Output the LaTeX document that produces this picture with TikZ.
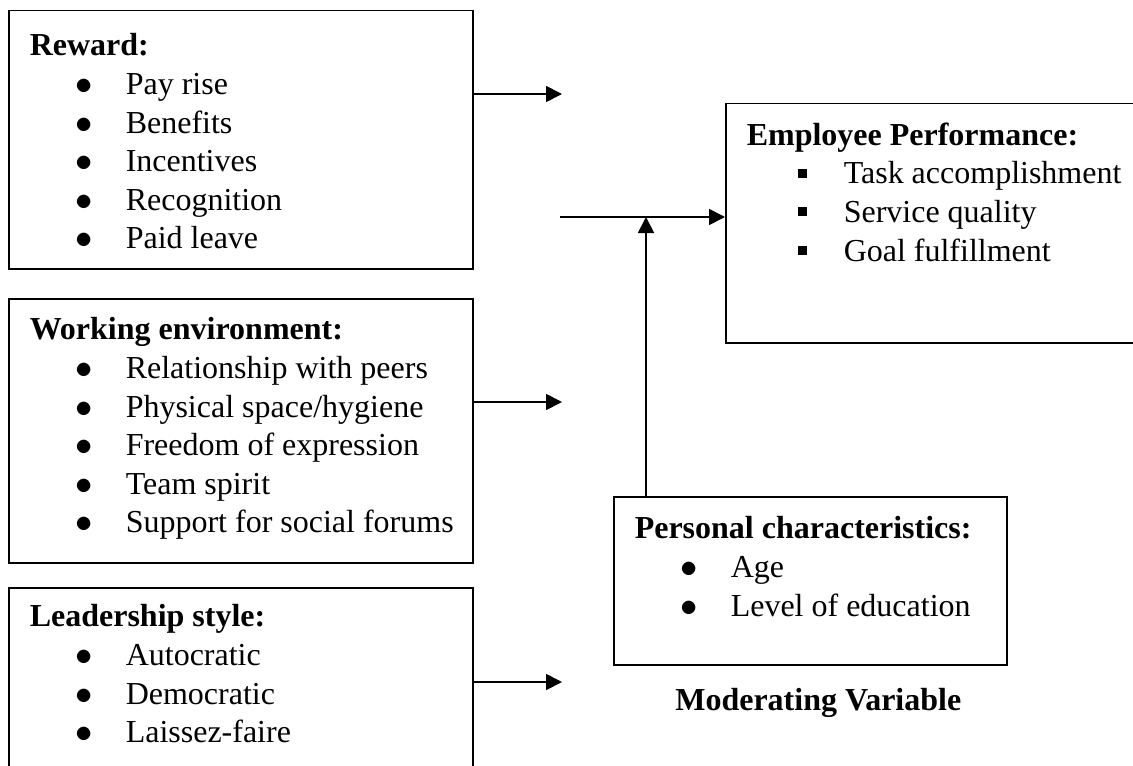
\documentclass[tikz,border=0pt]{standalone}
\usepackage{fontspec}
\setmainfont{Liberation Serif}
\usetikzlibrary{positioning, arrows.meta}

% box contents: top padding, width, height, lines
\newcommand{\panel}[4][10pt]{\parbox[c][#3][t]{#2}{\leftskip=10.5pt\vspace*{#1}#4}}
\newcommand{\dotitem}[1]{\par\hspace*{23pt}\makebox[25pt][l]{$\bullet$}#1}
\newcommand{\sqitem}[1]{\par\hspace*{25.4pt}\makebox[23.1pt][l]{\raisebox{3pt}{\rule{4.6pt}{4.6pt}}}#1}

\begin{document}
\begin{tikzpicture}[x=0.5pt, y=-0.5pt, font=\fontsize{16pt}{19.3pt}\selectfont]
    \tikzstyle{block} = [rectangle, draw, line width=0.75pt, inner sep=0pt, anchor=north west]
    \tikzstyle{arrow} = [line width=0.9pt, -{Triangle[length=8pt, width=8pt]}]

    \useasboundingbox (0,0) rectangle (1133,765);
    \clip (0,0) rectangle (1133,765);

    \node [block] (reward) at (8,10) {\panel[11.5pt]{232pt}{129pt}{\textbf{Reward:}
        \dotitem{Pay rise}\dotitem{Benefits}\dotitem{Incentives}\dotitem{Recognition}\dotitem{Paid leave}}};
    \node [block] (environ) at (8,298) {\panel[9.5pt]{232pt}{132pt}{\textbf{Working environment:}
        \dotitem{Relationship with peers}\dotitem{Physical space/hygiene}\dotitem{Freedom of expression}\dotitem{Team spirit}\dotitem{Support for social forums}}};
    \node [block] (leader) at (8,587) {\panel[8.5pt]{232pt}{100pt}{\textbf{Leadership style:}
        \dotitem{Autocratic}\dotitem{Democratic}\dotitem{Laissez-faire}}};
    \node [block] (perform) at (725,103) {\panel[9.5pt]{210pt}{119.5pt}{\textbf{Employee Performance:}
        \sqitem{Task accomplishment}\sqitem{Service quality}\sqitem{Goal fulfillment}}};
    \node [block] (moder) at (613,496) {\panel[10pt]{196.5pt}{84pt}{\textbf{Personal characteristics:}
        \dotitem{Age}\dotitem{Level of education}}};
    \node [below=11pt of moder, xshift=4pt, inner sep=0pt] (modlabel) {\textbf{Moderating Variable}};

    \coordinate (rewardend) at (562,94);
    \coordinate (environend) at (562,402);
    \coordinate (leaderend) at (562,682);
    \coordinate (joinstart) at (560,217);
    \coordinate (joinpoint) at (646,217);

    \draw [arrow] (reward.east |- rewardend) -- (rewardend);
    \draw [arrow] (environ.east |- environend) -- (environend);
    \draw [arrow] (leader.east |- leaderend) -- (leaderend);
    \draw [arrow] (joinstart) -- (joinstart -| perform.west);
    \draw [arrow] (moder.north -| joinpoint) -- (joinpoint);
\end{tikzpicture}
\end{document}
